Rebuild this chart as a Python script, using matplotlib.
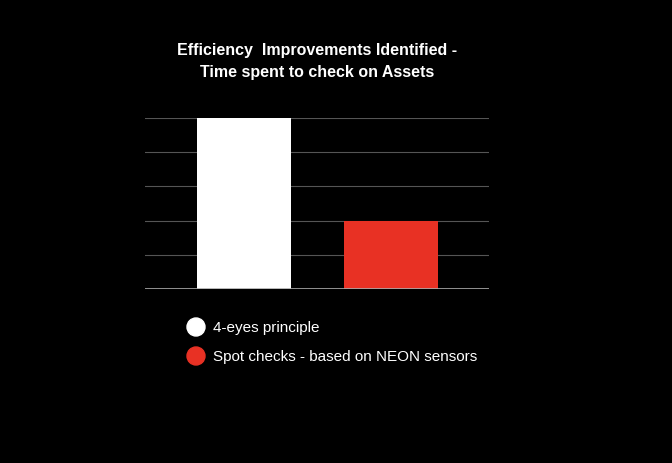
import matplotlib
matplotlib.use("Agg")
import matplotlib.pyplot as plt

categories = ["4-eyes principle", "Spot checks - based on NEON sensors"]
values = [5, 2]
colors = ["#ffffff", "#e83124"]

plt.rcParams['font.family'] = ['Liberation Sans', 'DejaVu Sans']
fig = plt.figure(figsize=(6.72, 4.64), dpi=100, facecolor="black")
ax = fig.add_axes([145/672, 1-290/464, 344/672, 171/464], facecolor="black")
x = list(range(len(values)))
ax.bar(x, values, width=0.64, color=colors, zorder=3)
ax.set_xlim(-0.673, 1.667)
ax.set_ylim(0, 5)
for y in [1, 2, 3, 4, 5]:
    ax.axhline(y, color="#555555", lw=0.8, zorder=1)
ax.axhline(0, color="#aaaaaa", lw=1.2, zorder=4)
for s in ax.spines.values():
    s.set_visible(False)
ax.set_xticks([]); ax.set_yticks([])

fig.text(317/672, 1-50/464, "Efficiency  Improvements Identified -", color="white",
         fontsize=11.5, fontweight="bold", ha="center", va="center")
fig.text(317/672, 1-72/464, "Time spent to check on Assets", color="white",
         fontsize=11.5, fontweight="bold", ha="center", va="center")

for i, (lab, c) in enumerate(zip(categories, colors)):
    yy = 1 - (328 + 29*i)/464
    fig.patches.append(matplotlib.patches.Ellipse((196/672, yy), 18/672, 18/464,
                       transform=fig.transFigure, color=c))
    fig.text(213/672, yy, lab, color="white", fontsize=11, ha="left", va="center")

fig.savefig("out.png", facecolor="black")
